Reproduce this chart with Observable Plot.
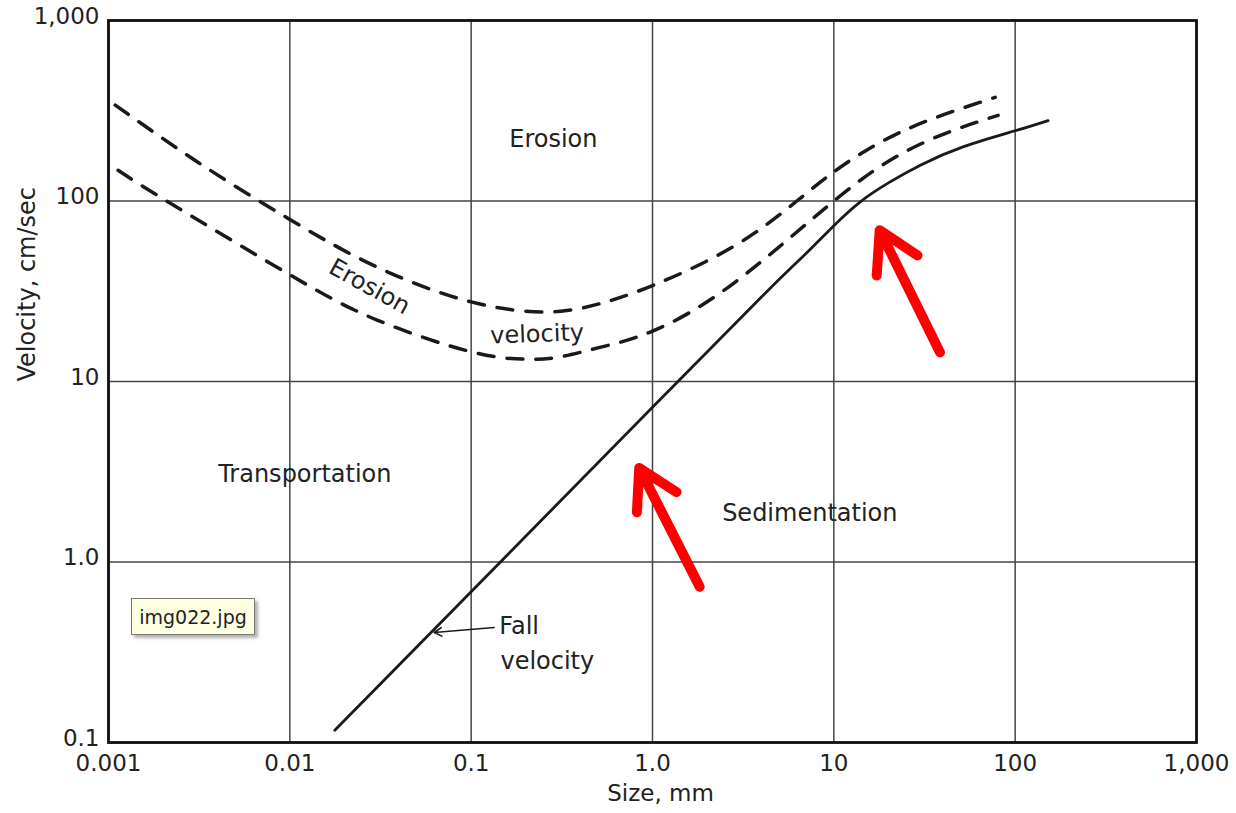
<!DOCTYPE html>
<html>
<head>
<meta charset="utf-8">
<script src="https://cdn.jsdelivr.net/npm/d3@7"></script>
<script src="https://cdn.jsdelivr.net/npm/@observablehq/plot@0.6"></script>
<style>
  body { margin: 0; background: #fff; }
  #wrap { position: relative; width: 1236px; height: 813px; }
  g[aria-label="chart labels"] text { letter-spacing: 1.8px; }
  .tip {
    position: absolute; left: 131px; top: 598px; width: 124px; height: 37px;
    box-sizing: border-box; background: #ffffe1; border: 1px solid #7a7a7a;
    box-shadow: 3px 3px 3px rgba(0,0,0,0.3);
    font: 19px "DejaVu Sans", sans-serif; color: #222;
    display: flex; align-items: center; justify-content: center;
  }
</style>
</head>
<body>
<div id="wrap"></div>
<script>
// ---- axes ----
const xTicks = [0.001, 0.01, 0.1, 1, 10, 100, 1000];
const xTickLabels = ["0.001", "0.01", "0.1", "1.0", "10", "100", "1,000"];
const yTicks = [0.1, 1, 10, 100, 1000];
const yTickLabels = ["0.1", "1.0", "10", "100", "1,000"];
const xTitle = "Size, mm";
const yTitle = "Velocity, cm/sec";

// ---- erosion velocity band (upper / lower dashed curves) ----
const upperSize = [0.00109, 0.00314, 0.01, 0.0303, 0.1, 0.266, 0.506, 1.0, 2.8, 6.25, 10, 15, 23.2, 40, 77.6];
const upperVel  = [340, 163, 79, 43, 27.6, 24.3, 26.9, 34, 56, 100, 145, 190, 240, 300, 375];
const lowerSize = [0.00113, 0.00209, 0.01, 0.0303, 0.1, 0.2, 0.3, 0.506, 1.0, 2.8, 10, 23.2, 45, 80.5];
const lowerVel  = [148, 100, 39, 21.9, 14.6, 13.3, 13.6, 15.4, 19, 35, 100, 181, 245, 298];

// ---- fall velocity (solid) ----
const fallSize = [0.0177, 0.145, 1.0, 4, 7, 10, 14, 20, 30, 52, 100, 152];
const fallVel  = [0.117, 1.0, 7.2, 29.5, 51, 73, 99, 126, 158, 200, 245, 279];

// ---- labels ----
const labelText  = ["Erosion", "Transportation", "Sedimentation", "Erosion", "velocity"];
const labelSize  = [0.284, 0.0121, 7.37, 0.0275, 0.231];
const labelVel   = [220, 3.05, 1.86, 33.5, 18.3];
const labelAngle = [0, 0, 0, 29, -2];

const fallLabelText = ["Fall", "velocity"];
const fallLabelSize = [0.143, 0.145];
const fallLabelVel  = [0.44, 0.282];

const leaderFrom = [0.134, 0.434];
const leaderTo   = [0.0625, 0.407];

// ---- red highlight arrows ----
const redFromSize = [1.82, 38.5];
const redFromVel  = [0.73, 14.5];
const redToSize   = [0.845, 17.9];
const redToVel    = [3.32, 68.9];

// ---- tables ----
const upper = upperSize.map((s, i) => ({size: s, vel: upperVel[i]}));
const lower = lowerSize.map((s, i) => ({size: s, vel: lowerVel[i]}));
const fall = fallSize.map((s, i) => ({size: s, vel: fallVel[i]}));
const labels = labelText.map((t, i) => ({text: t, size: labelSize[i], vel: labelVel[i], angle: labelAngle[i]}));
const fallLabels = fallLabelText.map((t, i) => ({text: t, size: fallLabelSize[i], vel: fallLabelVel[i]}));
const leader = [{x1: leaderFrom[0], y1: leaderFrom[1], x2: leaderTo[0], y2: leaderTo[1]}];
const redArrows = redFromSize.map((s, i) => ({x1: s, y1: redFromVel[i], x2: redToSize[i], y2: redToVel[i]}));
const xMap = new Map(xTicks.map((t, i) => [t, xTickLabels[i]]));
const yMap = new Map(yTicks.map((t, i) => [t, yTickLabels[i]]));

const ink = "#1a1a1a";
const font = "'DejaVu Sans', sans-serif";

const chart = Plot.plot({
  width: 1236,
  height: 813,
  marginLeft: 108,
  marginRight: 40,
  marginTop: 20,
  marginBottom: 71,
  style: {fontFamily: font, fontSize: "24px", color: "#222", background: "#fff"},
  x: {type: "log", domain: [0.001, 1000]},
  y: {type: "log", domain: [0.1, 1000]},
  marks: [
    Plot.gridX(xTicks, {stroke: "#444", strokeOpacity: 1, strokeWidth: 1.5}),
    Plot.gridY(yTicks, {stroke: "#444", strokeOpacity: 1, strokeWidth: 1.5}),
    Plot.frame({stroke: "#111", strokeWidth: 2.8}),
    Plot.axisX(xTicks, {tickSize: 0, tickPadding: 12, fontSize: 23, tickFormat: d => xMap.get(d), label: null}),
    Plot.axisY(yTicks, {tickSize: 0, tickPadding: 9, dy: -4, fontSize: 23, tickFormat: d => yMap.get(d), label: null}),
    Plot.text([xTitle], {text: d => d, frameAnchor: "bottom", dy: 58, dx: 8, fontSize: 23, fill: "#222", ariaLabel: "chart labels"}),
    Plot.text([yTitle], {text: d => d, frameAnchor: "left", dx: -81, rotate: -90, fontSize: 24, fill: "#222", ariaLabel: "chart labels"}),
    Plot.line(upper, {x: "size", y: "vel", curve: "natural", stroke: ink, strokeWidth: 3.5, strokeDasharray: "16,13", strokeLinecap: "round"}),
    Plot.line(lower, {x: "size", y: "vel", curve: "natural", stroke: ink, strokeWidth: 3.5, strokeDasharray: "16,13", strokeLinecap: "round"}),
    Plot.line(fall, {x: "size", y: "vel", curve: "natural", stroke: ink, strokeWidth: 2.8, strokeLinecap: "round"}),
    Plot.text(labels, {x: "size", y: "vel", text: "text", rotate: "angle", fontSize: 24, fill: "#222", ariaLabel: "chart labels"}),
    Plot.text(fallLabels, {x: "size", y: "vel", text: "text", textAnchor: "start", fontSize: 24, fill: "#222", ariaLabel: "chart labels"}),
    Plot.arrow(leader, {x1: "x1", y1: "y1", x2: "x2", y2: "y2", stroke: ink, strokeWidth: 1.6}),
    Plot.arrow(redArrows, {x1: "x1", y1: "y1", x2: "x2", y2: "y2", stroke: "#ff0000", strokeWidth: 10, headAngle: 60, headLength: 8, strokeLinecap: "round", strokeLinejoin: "round"})
  ]
});

const wrap = document.getElementById("wrap");
wrap.appendChild(chart);
const tip = document.createElement("div");
tip.className = "tip";
tip.textContent = "img022.jpg";
wrap.appendChild(tip);
</script>
</body>
</html>
